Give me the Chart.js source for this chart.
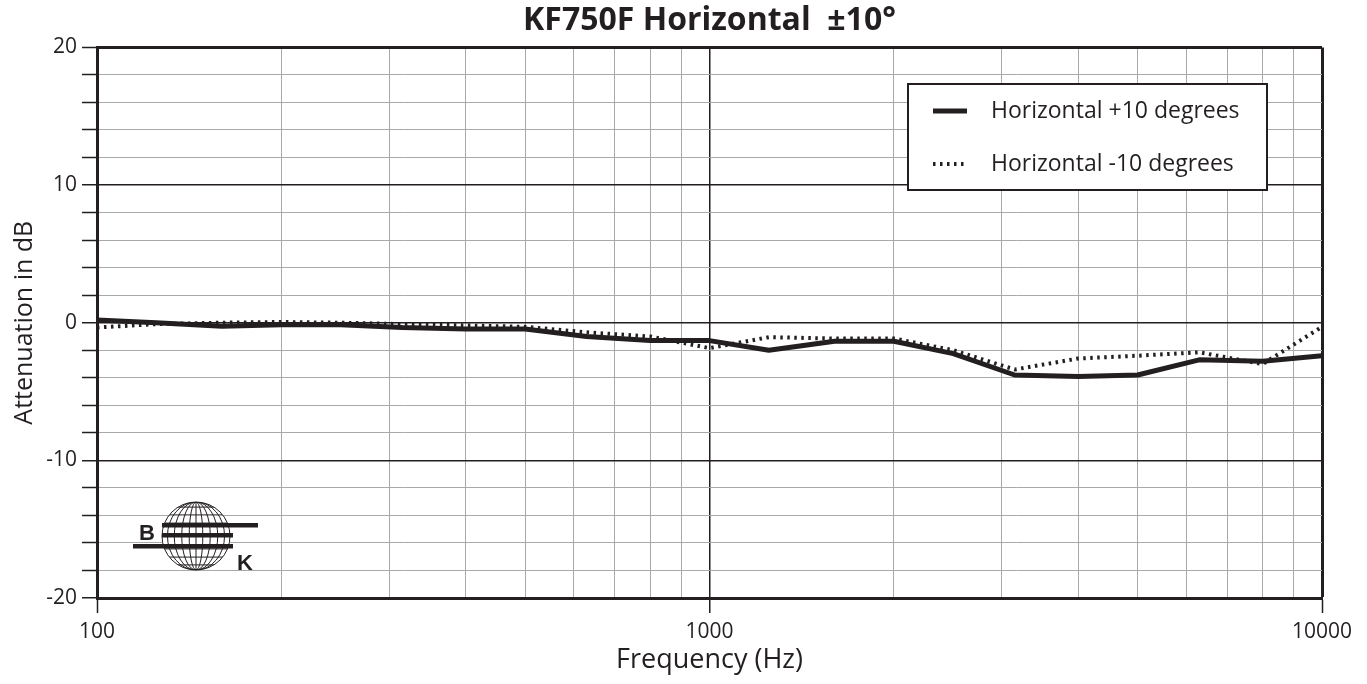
<html>
<head>
<title>KF750F Horizontal</title>
<script src="https://cdn.jsdelivr.net/npm/chart.js/dist/chart.umd.min.js"></script>
<style>
body { margin: 0; background: #fff; }
</style>
</head>
<body>
<canvas id="myChart" width="1367" height="684"></canvas>
<script>
// 1/3 octave centre frequencies and readings (dB)
var freqs = [100, 125, 160, 200, 250, 315, 400, 500, 630, 800, 1000, 1250, 1600, 2000, 2500, 3150, 4000, 5000, 6300, 8000, 10000];
var plus10 = [0.2, 0, -0.25, -0.15, -0.15, -0.35, -0.45, -0.45, -1.0, -1.3, -1.3, -2.0, -1.35, -1.35, -2.25, -3.8, -3.9, -3.8, -2.7, -2.8, -2.4];
var minus10 = [-0.35, -0.1, 0, 0.05, 0, -0.1, -0.2, -0.3, -0.7, -1.0, -1.85, -1.05, -1.15, -1.15, -2.0, -3.4, -2.6, -2.4, -2.15, -3.0, -0.3];
var seriesNames = ['Horizontal +10 degrees', 'Horizontal -10 degrees'];
var xTicks = [100, 200, 300, 400, 500, 600, 700, 800, 900, 1000, 2000, 3000, 4000, 5000, 6000, 7000, 8000, 9000, 10000];
var xLabels = [100, 1000, 10000];
var yLabels = [-20, -10, 0, 10, 20];

var ink = '#231f20';
var minorGrid = '#a7a9ac';
var fontFamily = '"Open Sans", "Noto Sans", sans-serif';

function pts(ys) {
    return freqs.map((f, i) => ({x: f, y: ys[i]}));
}

// custom legend box inside the plot, top right
const boxLegend = {
    id: 'boxLegend',
    afterDraw(chart) {
        const c = chart.ctx;
        const x0 = 908, y0 = 84, w = 359, h = 106;
        c.save();
        c.fillStyle = '#fff';
        c.fillRect(x0, y0, w, h);
        c.strokeStyle = ink;
        c.lineWidth = 2;
        c.strokeRect(x0, y0, w, h);
        chart.data.datasets.forEach((ds, i) => {
            const y = y0 + 27 + i * 53;
            c.beginPath();
            c.strokeStyle = ds.borderColor;
            c.lineWidth = ds.borderWidth;
            c.setLineDash(ds.borderDash || []);
            c.moveTo(933, y);
            c.lineTo(967, y);
            c.stroke();
            c.setLineDash([]);
            c.fillStyle = ink;
            c.font = '23px ' + fontFamily;
            c.textBaseline = 'middle';
            c.fillText(ds.label, 991, y);
        });
        c.restore();
    }
};

// B K globe mark in the lower left
const bkLogo = {
    id: 'bkLogo',
    afterDatasetsDraw(chart) {
        const c = chart.ctx;
        const cx = 196, cy = 536, r = 34;
        c.save();
        c.fillStyle = '#fff';
        c.beginPath();
        c.arc(cx, cy, r, 0, Math.PI * 2);
        c.fill();
        c.strokeStyle = ink;
        c.lineWidth = 1;
        c.stroke();
        c.beginPath();
        c.arc(cx, cy, r, 0, Math.PI * 2);
        c.clip();
        [0.2, 0.42, 0.64, 0.84].forEach(k => {
            c.beginPath();
            c.ellipse(cx, cy, r * k, r, 0, 0, Math.PI * 2);
            c.stroke();
        });
        c.beginPath();
        c.moveTo(cx, cy - r);
        c.lineTo(cx, cy + r);
        c.stroke();
        [-0.85, -0.62, -0.38, 0.38, 0.62, 0.85].forEach(k => {
            c.beginPath();
            c.moveTo(cx - r, cy + r * k);
            c.lineTo(cx + r, cy + r * k);
            c.stroke();
        });
        c.restore();
        c.save();
        c.fillStyle = ink;
        c.fillRect(162, 523, 96, 4.5);
        c.fillRect(162, 533, 71, 4.5);
        c.fillRect(133, 544, 100, 4.5);
        c.font = 'bold 22px "Liberation Sans", Arial, sans-serif';
        c.textBaseline = 'alphabetic';
        c.fillText('B', 139, 540);
        c.fillText('K', 237, 570);
        c.restore();
    }
};

const ctx = document.getElementById('myChart').getContext('2d');
const myChart = new Chart(ctx, {
    type: 'line',
    data: {
        datasets: [
            {
                label: seriesNames[0],
                data: pts(plus10),
                borderColor: ink,
                borderWidth: 5,
                pointRadius: 0,
                tension: 0,
                borderJoinStyle: 'round'
            },
            {
                label: seriesNames[1],
                data: pts(minus10),
                borderColor: ink,
                borderWidth: 4,
                borderDash: [2.5, 4.5],
                pointRadius: 0,
                tension: 0
            }
        ]
    },
    options: {
        responsive: false,
        animation: false,
        layout: {padding: {top: 0, right: 45, bottom: 0, left: 0}},
        scales: {
            x: {
                type: 'logarithmic',
                min: 100,
                max: 10000,
                afterBuildTicks: s => { s.ticks = xTicks.map(v => ({value: v})); },
                afterFit: s => { s.height = 86; },
                ticks: {
                    autoSkip: false,
                    maxRotation: 0,
                    padding: 6,
                    color: ink,
                    font: {family: fontFamily, size: 21},
                    callback: v => xLabels.includes(v) ? String(v) : ''
                },
                grid: {
                    color: c => c.tick && xLabels.includes(c.tick.value) ? ink : minorGrid,
                    lineWidth: c => c.tick && c.tick.value === 10000 ? 3 : (c.tick && c.tick.value === 1000 ? 1.5 : 1),
                    tickLength: 15,
                    tickWidth: 1.5,
                    tickColor: c => c.tick && xLabels.includes(c.tick.value) ? ink : 'rgba(0,0,0,0)'
                },
                border: {color: ink, width: 3},
                title: {
                    display: true,
                    text: 'Frequency (Hz)',
                    color: ink,
                    font: {family: fontFamily, size: 27},
                    padding: {top: 0, bottom: 7}
                }
            },
            y: {
                min: -20,
                max: 20,
                afterFit: s => { s.width = 97; },
                ticks: {
                    stepSize: 2,
                    autoSkip: false,
                    padding: 5,
                    color: ink,
                    font: {family: fontFamily, size: 21},
                    callback: v => yLabels.includes(v) ? String(v) : ''
                },
                grid: {
                    color: c => c.tick && yLabels.includes(c.tick.value) ? ink : minorGrid,
                    lineWidth: c => c.tick && c.tick.value === 20 ? 3 : (c.tick && c.tick.value % 10 === 0 ? 1.5 : 1),
                    tickLength: 15,
                    tickWidth: 1.5,
                    tickColor: ink
                },
                border: {color: ink, width: 3},
                title: {
                    display: true,
                    text: 'Attenuation in dB',
                    color: ink,
                    font: {family: fontFamily, size: 25},
                    padding: {top: 10, bottom: 0}
                }
            }
        },
        plugins: {
            legend: {display: false},
            tooltip: {enabled: false},
            title: {
                display: true,
                fullSize: false,
                text: 'KF750F Horizontal  \u00b110\u00b0',
                color: ink,
                font: {family: fontFamily, size: 32, weight: 'bold'},
                padding: {top: 2, bottom: 7}
            }
        }
    },
    plugins: [boxLegend, bkLogo]
});
</script>
</body>
</html>
